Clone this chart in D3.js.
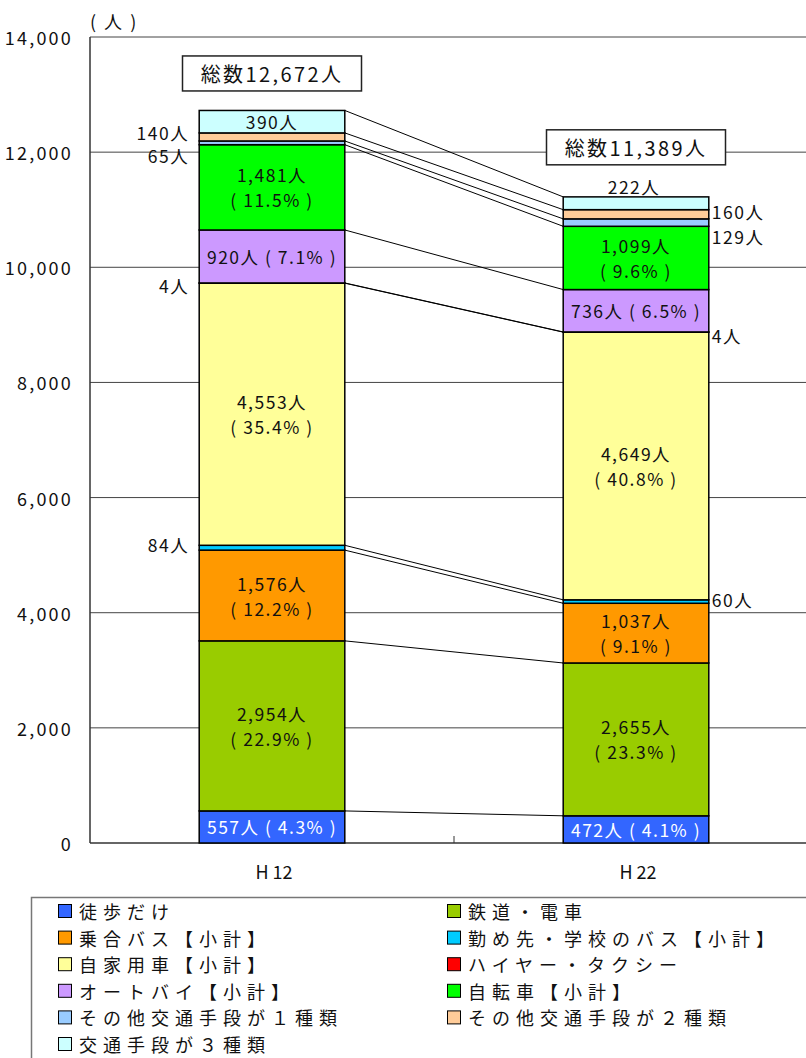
<!DOCTYPE html>
<html>
<head>
<meta charset="utf-8">
<script src="https://cdn.jsdelivr.net/npm/d3@7"></script>
<style>
  body { margin: 0; background: #fff; }
  svg { display: block; font-family: "Noto Sans CJK JP", "Noto Sans", sans-serif; }
</style>
</head>
<body>
<div id="chart"></div>
<script>
// data, bottom of the stack first
var years = ["H 12", "H 22"];
var series = ["徒歩だけ", "鉄道・電車", "乗合バス【小計】", "勤め先・学校のバス【小計】",
              "自家用車【小計】", "ハイヤー・タクシー", "オートバイ【小計】", "自転車【小計】",
              "その他交通手段が１種類", "その他交通手段が２種類", "交通手段が３種類"];
var colors = ["#3366ff", "#99cc00", "#ff9900", "#00ccff", "#ffff99", "#ff0000",
              "#cc99ff", "#00ff00", "#99ccff", "#ffcc99", "#ccffff"];
var valuesH12 = [557, 2954, 1576, 84, 4553, 4, 920, 1481, 65, 140, 390];
var valuesH22 = [472, 2655, 1037, 60, 4649, 4, 736, 1099, 129, 160, 222];
var pctH12 = [4.3, 22.9, 12.2, null, 35.4, null, 7.1, 11.5, null, null, null];
var pctH22 = [4.1, 23.3, 9.1, null, 40.8, null, 6.5, 9.6, null, null, null];
var totals = [12672, 11389];
var yTicks = [0, 2000, 4000, 6000, 8000, 10000, 12000, 14000];

// how each segment label is placed (mode, vertical nudge)
var labelLayout = [
  [["one",0],["two",0],["two",0],["left",-3],["two",0],["left",2],["one",0],["two",0],["left",13],["left",-4],["num",0]],
  [["one",0],["two",0],["two",0],["right",-2],["two",0],["right",3],["one",0],["two",0],["right",14],["right",-3],["top",0]]
];

var W = 806, H = 1058;
var margin = {top: 37, left: 90, right: 818, bottom: 843};

var svg = d3.select("#chart").append("svg")
    .attr("width", W)
    .attr("height", H);

var x = d3.scaleBand()
    .domain(years)
    .range([margin.left, margin.right])
    .padding(0);
var barW = x.bandwidth() * 0.4;

var y = d3.scaleLinear()
    .domain([0, 14000])
    .range([margin.bottom, margin.top]);

var fmt = d3.format(",");
var pct = function(p){ return "( " + p + "% )"; };

// gridlines
svg.append("g").selectAll("line")
  .data(yTicks.filter(function(d){ return d > 0; }))
  .enter().append("line")
    .attr("x1", margin.left).attr("x2", margin.right)
    .attr("y1", function(d){ return y(d); }).attr("y2", function(d){ return y(d); })
    .attr("stroke", "#444").attr("stroke-width", 1);

// y axis labels
svg.append("g").selectAll("text")
  .data(yTicks)
  .enter().append("text")
    .attr("x", margin.left - 17)
    .attr("y", function(d){ return y(d); })
    .attr("text-anchor", "end")
    .attr("dominant-baseline", "central")
    .attr("font-size", 18)
    .attr("letter-spacing", "2.2px")
    .attr("fill", "#111")
    .text(function(d){ return fmt(d); });

svg.append("text")
  .attr("x", margin.left).attr("y", 21)
  .attr("dominant-baseline", "central")
  .attr("font-size", 18)
  .attr("letter-spacing", "2px")
  .attr("fill", "#111")
  .text("( 人 )");

// stacks
var allValues = [valuesH12, valuesH22];
var allPct = [pctH12, pctH22];
var stacks = allValues.map(function(vals){
  var acc = 0;
  return vals.map(function(v){ var s = {y0: acc, y1: acc + v, v: v}; acc += v; return s; });
});

// connecting lines between the tops of the segments
var xRight0 = x(years[0]) + (x.bandwidth() + barW) / 2;
var xLeft1 = x(years[1]) + (x.bandwidth() - barW) / 2;
svg.append("g").selectAll("line")
  .data(d3.range(series.length))
  .enter().append("line")
    .attr("x1", xRight0).attr("y1", function(i){ return y(stacks[0][i].y1); })
    .attr("x2", xLeft1).attr("y2", function(i){ return y(stacks[1][i].y1); })
    .attr("stroke", "#000").attr("stroke-width", 1);

// axis lines
svg.append("line")
  .attr("x1", margin.left).attr("x2", margin.left)
  .attr("y1", margin.top).attr("y2", margin.bottom)
  .attr("stroke", "#333").attr("stroke-width", 1.5);
svg.append("line")
  .attr("x1", margin.left).attr("x2", margin.right)
  .attr("y1", margin.bottom).attr("y2", margin.bottom)
  .attr("stroke", "#333").attr("stroke-width", 1.5);
svg.append("line")
  .attr("x1", x(years[1])).attr("x2", x(years[1]))
  .attr("y1", margin.bottom).attr("y2", margin.bottom - 7)
  .attr("stroke", "#333").attr("stroke-width", 1);

// category labels
svg.append("g").selectAll("text")
  .data(years)
  .enter().append("text")
    .attr("x", function(d){ return x(d) + x.bandwidth() / 2 + 2; })
    .attr("y", 871)
    .attr("text-anchor", "middle")
    .attr("dominant-baseline", "central")
    .attr("font-size", 18)
    .attr("fill", "#111")
    .text(function(d){ return d; });

years.forEach(function(yr, c){
  var bx = x(yr) + (x.bandwidth() - barW) / 2;
  var cx = bx + barW / 2;
  var g = svg.append("g");

  g.selectAll("rect")
    .data(stacks[c])
    .enter().append("rect")
      .attr("x", bx)
      .attr("width", barW)
      .attr("y", function(d){ return y(d.y1); })
      .attr("height", function(d){ return y(d.y0) - y(d.y1); })
      .attr("fill", function(d, i){ return colors[i]; })
      .attr("stroke", "#000")
      .attr("stroke-width", 1.5);

  stacks[c].forEach(function(d, i){
    var mode = labelLayout[c][i][0], dy = labelLayout[c][i][1];
    var my = (y(d.y0) + y(d.y1)) / 2 + dy;
    var fill = i === 0 ? "#fff" : "#111";
    var num = fmt(d.v) + "人";
    function t(tx, ty, anchor, s) {
      g.append("text")
        .attr("x", tx).attr("y", ty)
        .attr("text-anchor", anchor)
        .attr("dominant-baseline", "central")
        .attr("font-size", 17.5)
        .attr("letter-spacing", "1.5px")
        .attr("fill", fill)
        .text(s);
    }
    if (mode === "one") t(cx, my, "middle", num + " " + pct(allPct[c][i]));
    else if (mode === "two") {
      t(cx, my - 12.5, "middle", num);
      t(cx, my + 12.5, "middle", pct(allPct[c][i]));
    }
    else if (mode === "num") t(cx, my, "middle", num);
    else if (mode === "left") t(bx - 10, my, "end", num);
    else if (mode === "right") t(bx + barW + 3, my, "start", num);
    else if (mode === "top") t(cx - 2, y(d.y1) - 10, "middle", num);
  });

  // total box
  var by = y(totals[c]) - 40;
  g.append("rect")
    .attr("x", cx - 89.5).attr("y", by - 17.5)
    .attr("width", 179).attr("height", 35)
    .attr("fill", "#fff").attr("stroke", "#222").attr("stroke-width", 1.5);
  g.append("text")
    .attr("x", cx).attr("y", by)
    .attr("text-anchor", "middle")
    .attr("dominant-baseline", "central")
    .attr("font-size", 20)
    .attr("letter-spacing", "2.4px")
    .attr("fill", "#111")
    .text("総数" + fmt(totals[c]) + "人");
});

// legend
var lg = svg.append("g");
lg.append("rect")
  .attr("x", 31.5).attr("y", 897.5)
  .attr("width", 800).attr("height", 200)
  .attr("fill", "#fff").attr("stroke", "#777").attr("stroke-width", 1.5);

var item = lg.selectAll("g.item")
  .data(series)
  .enter().append("g")
    .attr("class", "item")
    .attr("transform", function(d, i){
      return "translate(" + (i % 2 === 0 ? 58 : 447) + "," + (911 + Math.floor(i / 2) * 26.6) + ")";
    });
item.append("rect")
  .attr("x", 0.5).attr("y", -6.5)
  .attr("width", 13).attr("height", 13)
  .attr("fill", function(d, i){ return colors[i]; })
  .attr("stroke", "#000").attr("stroke-width", 1);
item.append("text")
  .attr("x", 21).attr("y", 0)
  .attr("dominant-baseline", "central")
  .attr("font-size", 18)
  .attr("letter-spacing", "6px")
  .attr("fill", "#111")
  .text(function(d){ return d; });
</script>
</body>
</html>
